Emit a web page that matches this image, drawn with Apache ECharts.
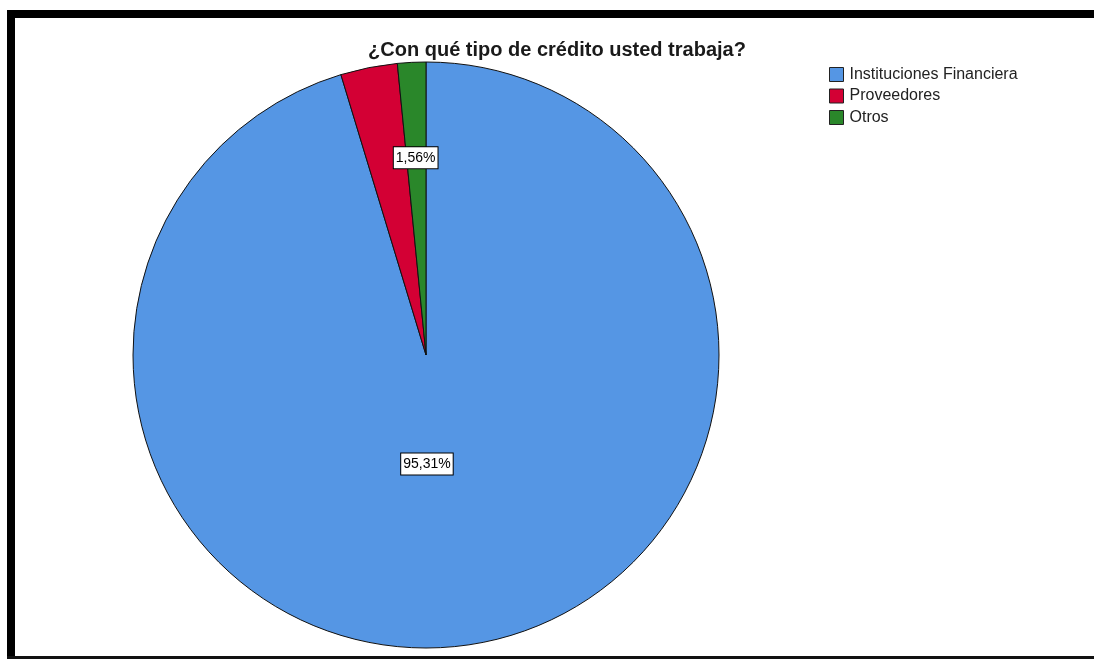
<!DOCTYPE html>
<html>
<head>
<meta charset="utf-8">
<script src="https://cdn.jsdelivr.net/npm/echarts@6/dist/echarts.min.js"></script>
<style>
html,body{margin:0;padding:0;background:#fff;}
#c{width:1094px;height:659px;}
</style>
</head>
<body>
<div id="c"></div>
<script>
const titleText = '¿Con qué tipo de crédito usted trabaja?';
const categories = ['Instituciones Financiera', 'Proveedores', 'Otros'];
const percents = [95.31, 3.13, 1.56];
const showLabel = [true, false, true];
const colors = ['#5596e4', '#d30034', '#2a872a'];
const labelOffsets = [[-21, -39], [0, 0], [-3, -48]];

const chart = echarts.init(document.getElementById('c'), null, {renderer: 'canvas'});
const data = categories.map((name, i) => ({
  name: name,
  value: percents[i],
  itemStyle: {color: colors[i]},
  label: {show: showLabel[i], offset: labelOffsets[i]}
}));

chart.setOption({
  animation: false,
  backgroundColor: '#ffffff',
  title: {
    text: titleText,
    left: 552,
    textAlign: 'center',
    top: 35,
    textStyle: {fontFamily: 'Liberation Sans', fontSize: 20, fontWeight: 'bold', color: '#1a1a1a'}
  },
  legend: {
    orient: 'vertical',
    left: 824,
    top: 61.5,
    itemWidth: 14,
    itemHeight: 14,
    itemGap: 5.5,
    icon: 'rect',
    data: categories,
    textStyle: {fontFamily: 'Liberation Sans', fontSize: 16, color: '#222', padding: [0, 0, 0, 1]},
    itemStyle: {borderColor: '#222', borderWidth: 1}
  },
  graphic: [
    {type: 'rect', shape: {x: 7, y: 10, width: 1087, height: 8}, style: {fill: '#000'}},
    {type: 'rect', shape: {x: 7, y: 10, width: 8, height: 649}, style: {fill: '#000'}},
    {type: 'rect', shape: {x: 7, y: 656, width: 1087, height: 3}, style: {fill: '#111'}}
  ],
  series: [{
    type: 'pie',
    center: [426, 355],
    radius: [0, 293],
    startAngle: 90,
    clockwise: true,
    avoidLabelOverlap: false,
    itemStyle: {borderColor: '#111', borderWidth: 1},
    emphasis: {disabled: true},
    label: {
      position: 'inside',
      formatter: p => p.value.toFixed(2).replace('.', ',') + '%',
      fontFamily: 'Liberation Sans',
      fontSize: 14,
      color: '#000',
      backgroundColor: '#fff',
      borderColor: '#000',
      borderWidth: 1,
      padding: [4, 2, 3, 2]
    },
    labelLine: {show: false},
    data: data
  }]
});
</script>
</body>
</html>
